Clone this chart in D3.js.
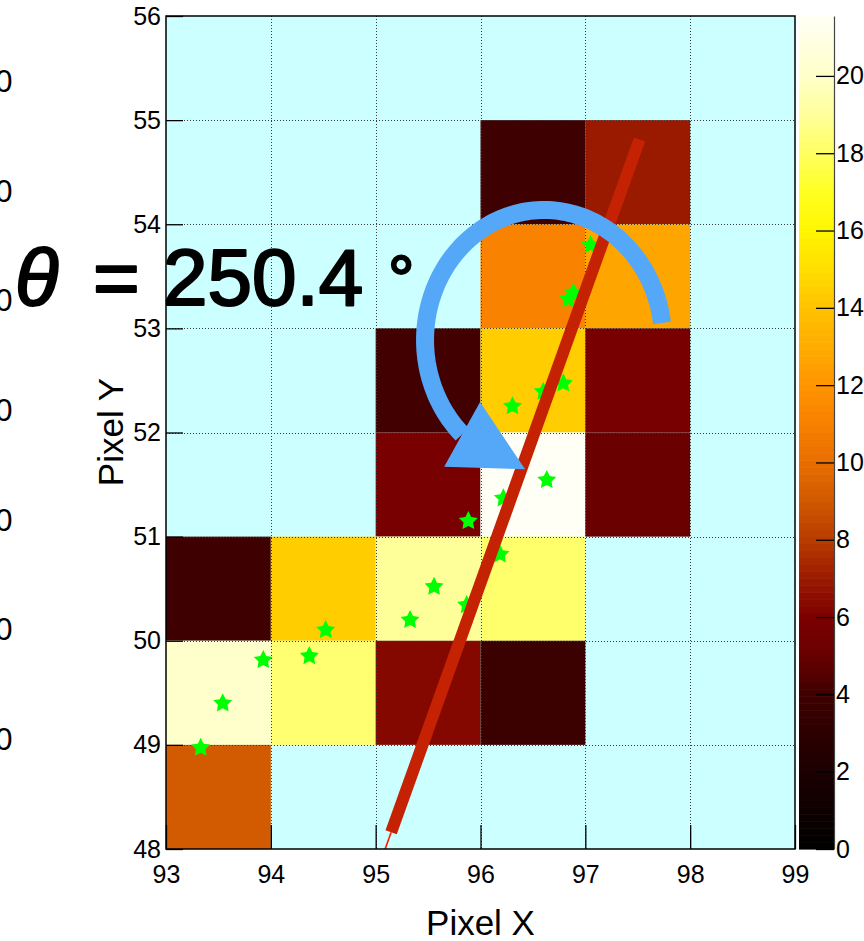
<!DOCTYPE html>
<html>
<head>
<meta charset="utf-8">
<script src="https://cdn.jsdelivr.net/npm/d3@7"></script>
<style>
  html, body { margin: 0; padding: 0; background: #ffffff; }
  svg { display: block; }
  text { font-family: "Liberation Sans", Arial, Helvetica, sans-serif; }
</style>
</head>
<body>
<svg id="chart" width="864" height="941"></svg>
<script>
// ---- pixel charge map (one entry per fired pixel) ----
const cellX      = [96, 97, 96, 97, 95, 96, 97, 95, 96, 97, 93, 94, 95, 96, 93, 94, 95, 96, 93];
const cellY      = [54, 54, 53, 53, 52, 52, 52, 51, 51, 51, 50, 50, 50, 50, 49, 49, 49, 49, 48];
const cellCharge = [4.0, 7.0, 11.1, 12.7, 4.1, 14.4, 5.8, 5.8, 21.55, 5.1, 4.0, 14.4, 19.0, 18.2, 20.1, 18.3, 6.3, 3.8, 9.1];

// ---- reconstructed hit positions (stars) ----
const hitX = [93.331, 93.541, 93.928, 94.367, 94.523, 95.328, 95.557, 95.868, 95.884,
              96.186, 96.218, 96.632, 96.305, 96.599, 96.790, 96.838, 96.885, 97.051];
const hitY = [48.973, 49.399, 49.815, 49.853, 50.103, 50.199, 50.519, 50.343, 51.150,
              50.830, 51.368, 51.544, 52.252, 52.392, 52.472, 53.279, 53.343, 53.801];

// ---- fitted track ----
const trackAngleDeg = 250.4;          // direction of the track, degrees
const trackStart    = [97.517, 54.814];
const trackEndY     = 48.16;          // where the thick segment stops

// ---- axis ticks ----
const xTicks = [93, 94, 95, 96, 97, 98, 99];
const yTicks = [48, 49, 50, 51, 52, 53, 54, 55, 56];
const zTicks = [0, 2, 4, 6, 8, 10, 12, 14, 16, 18, 20];
const sideTickLabels = ["0", "0", "0", "0", "0", "0", "0"];

// ---- colour palette stops (charge -> colour) ----
const paletteValues = [0, 2, 4, 5, 6, 7, 8, 9, 10, 11, 12, 13, 14, 15, 16, 17, 18, 19, 20, 21.55];
const paletteColors = ["#000000", "#1c0000", "#3e0000", "#680000", "#7c0000", "#9a1a00", "#b83c00",
                       "#d05800", "#e86e00", "#f88000", "#ff9400", "#ffac00", "#ffc200", "#ffde00",
                       "#fff500", "#ffff20", "#ffff60", "#ffff9a", "#ffffc8", "#fffff5"];

// ---- layout ----
const frame = { left: 166, right: 795, top: 16, bottom: 849 };
const bar   = { left: 799, right: 834 };
const tickFont = 25, labelFont = 35;

const svg = d3.select("#chart");
const x = d3.scaleLinear().domain([93, 99]).range([frame.left, frame.right]);
const y = d3.scaleLinear().domain([48, 56]).range([frame.bottom, frame.top]);
const zMax = d3.max(cellCharge);
const z = d3.scaleLinear().domain([0, zMax]).range([frame.bottom, frame.top]);
const color = d3.scaleLinear().domain(paletteValues).range(paletteColors)
  .interpolate(d3.interpolateRgb).clamp(true);

const cells = cellX.map((cx, i) => ({ x: cx, y: cellY[i], v: cellCharge[i] }));
const hits  = hitX.map((hx, i) => ({ x: hx, y: hitY[i] }));

// frame background
svg.append("rect")
  .attr("x", frame.left).attr("y", frame.top)
  .attr("width", frame.right - frame.left).attr("height", frame.bottom - frame.top)
  .attr("fill", "#ccffff");

// charge cells
svg.append("g").selectAll("rect").data(cells).join("rect")
  .attr("x", d => x(d.x)).attr("y", d => y(d.y + 1))
  .attr("width", d => x(d.x + 1) - x(d.x))
  .attr("height", d => y(d.y) - y(d.y + 1))
  .attr("fill", d => color(d.v));

// dotted grid
const grid = svg.append("g").attr("stroke", "#3a3a3a").attr("stroke-width", 1)
  .attr("stroke-dasharray", "1,2");
grid.selectAll("line.gx").data(xTicks.slice(1, -1)).join("line")
  .attr("x1", d => Math.round(x(d)) + 0.5).attr("x2", d => Math.round(x(d)) + 0.5)
  .attr("y1", frame.top).attr("y2", frame.bottom);
grid.selectAll("line.gy").data(yTicks.slice(1, -1)).join("line")
  .attr("y1", d => Math.round(y(d)) + 0.5).attr("y2", d => Math.round(y(d)) + 0.5)
  .attr("x1", frame.left).attr("x2", frame.right);

// hit stars: five-pointed marker with a fairly full body
const starShape = {
  draw(ctx, size) {
    const R = Math.sqrt(size), r = R * 0.5;
    for (let i = 0; i < 10; i++) {
      const rr = i % 2 ? r : R;
      const a = -Math.PI / 2 + i * Math.PI / 5;
      if (i === 0) ctx.moveTo(rr * Math.cos(a), rr * Math.sin(a));
      else ctx.lineTo(rr * Math.cos(a), rr * Math.sin(a));
    }
    ctx.closePath();
  }
};
svg.append("g").selectAll("path").data(hits).join("path")
  .attr("d", d3.symbol(starShape, 100))
  .attr("transform", d => `translate(${x(d.x)},${y(d.y)})`)
  .attr("fill", "#00ff00");

// track line: thick fitted segment plus thin continuation to the frame
const rad = trackAngleDeg * Math.PI / 180;
const dirX = Math.cos(rad), dirY = Math.sin(rad);
const tEnd = (trackEndY - trackStart[1]) / dirY;
const tFrame = (48 - trackStart[1]) / dirY;
const endPt = [trackStart[0] + tEnd * dirX, trackEndY];
const framePt = [trackStart[0] + tFrame * dirX, 48];
svg.append("line")
  .attr("x1", x(endPt[0])).attr("y1", y(endPt[1]))
  .attr("x2", x(framePt[0])).attr("y2", y(framePt[1]))
  .attr("stroke", "#ff1a00").attr("stroke-width", 1.6);
svg.append("line")
  .attr("x1", x(trackStart[0])).attr("y1", y(trackStart[1]))
  .attr("x2", x(endPt[0])).attr("y2", y(endPt[1]))
  .attr("stroke", "#c52204").attr("stroke-width", 12);

// rotation arrow showing the track angle
const arcCenter = [96.606, 52.888], arcRadii = [1.135, 1.249];
const arcFrom = -7.5, arcTo = -226.5;
const acx = x(arcCenter[0]), acy = y(arcCenter[1]);
const arx = x(arcCenter[0] + arcRadii[0]) - acx, ary = acy - y(arcCenter[1] + arcRadii[1]);
const arcPts = d3.range(0, 121).map(i => {
  const a = (arcFrom + (arcTo - arcFrom) * i / 120) * Math.PI / 180;
  return [acx + arx * Math.cos(a), acy + ary * Math.sin(a)];
});
const arrowColor = "#55a7f7";
svg.append("path")
  .attr("d", d3.line()(arcPts))
  .attr("fill", "none").attr("stroke", arrowColor).attr("stroke-width", 18);
const headDir = 29 * Math.PI / 180, headLen = 72, headHalf = 37;
const [mx, my] = arcPts[arcPts.length - 1];
const ux = Math.cos(headDir), uy = Math.sin(headDir);
svg.append("path")
  .attr("d", d3.line()([
    [mx + headLen * ux, my + headLen * uy],
    [mx - headHalf * uy, my + headHalf * ux],
    [mx + headHalf * uy, my - headHalf * ux]
  ]) + "Z")
  .attr("fill", arrowColor);

// frame border
svg.append("rect")
  .attr("x", frame.left).attr("y", frame.top)
  .attr("width", frame.right - frame.left).attr("height", frame.bottom - frame.top)
  .attr("fill", "none").attr("stroke", "#000").attr("stroke-width", 1.5);

// axes
const yAxis = svg.append("g").attr("transform", `translate(${frame.left},0)`)
  .call(d3.axisLeft(y).tickValues(yTicks).tickFormat(d3.format("d"))
    .tickSizeInner(-17).tickSizeOuter(0).tickPadding(5));
const xAxis = svg.append("g").attr("transform", `translate(0,${frame.bottom})`)
  .call(d3.axisBottom(x).tickValues(xTicks).tickFormat(d3.format("d"))
    .tickSizeInner(-24).tickSizeOuter(0).tickPadding(16));
[xAxis, yAxis].forEach(g => {
  g.select(".domain").remove();
  g.selectAll(".tick line").attr("stroke", "#000").attr("stroke-width", 1.3);
  g.selectAll("text").attr("font-size", tickFont).attr("fill", "#000")
    .attr("font-family", "'Liberation Sans', Arial, sans-serif");
});

svg.append("text")
  .attr("x", (frame.left + frame.right) / 2).attr("y", 935)
  .attr("text-anchor", "middle").attr("font-size", labelFont).text("Pixel X");
svg.append("text")
  .attr("transform", "translate(123,432) rotate(-90)")
  .attr("text-anchor", "middle").attr("font-size", labelFont).text("Pixel Y");

// colour bar
const bands = 120;
svg.append("g").selectAll("rect").data(d3.range(bands)).join("rect")
  .attr("x", bar.left).attr("width", bar.right - bar.left)
  .attr("y", i => z(zMax * (i + 1) / bands))
  .attr("height", i => z(zMax * i / bands) - z(zMax * (i + 1) / bands) + 0.6)
  .attr("fill", i => color(zMax * (i + 0.5) / bands));
const zAxis = svg.append("g").attr("transform", `translate(${bar.right},0)`)
  .call(d3.axisRight(z).tickValues(zTicks).tickFormat(d3.format("d"))
    .tickSizeInner(-18).tickSizeOuter(0).tickPadding(2));
zAxis.select(".domain").attr("stroke", "#444").attr("stroke-width", 1.2);
zAxis.selectAll(".tick line").attr("stroke", "#000").attr("stroke-width", 1.3);
zAxis.selectAll("text").attr("font-size", tickFont).attr("fill", "#000")
  .attr("font-family", "'Liberation Sans', Arial, sans-serif");

// neighbouring panel's axis labels, cut by the page edge
const side = d3.scaleLinear().domain([0, sideTickLabels.length - 1]).range([81, 739]);
svg.append("g").selectAll("text").data(sideTickLabels).join("text")
  .attr("x", 12.5).attr("y", (d, i) => side(i)).attr("dy", "0.35em")
  .attr("text-anchor", "end").attr("font-size", 31).text(d => d);

// angle annotation (regular weight, thickened with a thin outline)
const ann = svg.append("g").attr("fill", "#000");
const heavy = sel => sel.attr("stroke", "#000").attr("stroke-width", 2.2).attr("stroke-linejoin", "round");
ann.append("text").attr("x", 15).attr("y", 305).attr("font-size", 80)
  .attr("font-style", "italic").text("\u03B8").call(heavy);
ann.append("text").attr("x", 93).attr("y", 305).attr("font-size", 80).text("=").call(heavy);
ann.append("text").attr("x", 163).attr("y", 305).attr("font-size", 80)
  .text(d3.format(".1f")(trackAngleDeg)).call(heavy);
ann.append("text").attr("x", 388).attr("y", 302).attr("font-size", 66)
  .attr("font-family", "'DejaVu Sans', sans-serif").text("\u00B0").call(heavy);
</script>
</body>
</html>
